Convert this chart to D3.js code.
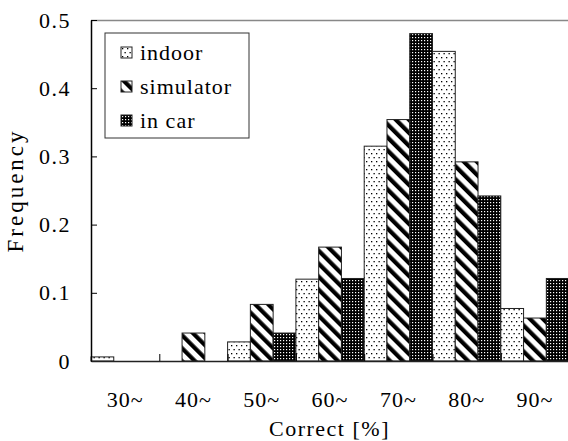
<!DOCTYPE html>
<html>
<head>
<meta charset="utf-8">
<script src="https://cdn.jsdelivr.net/npm/d3@7"></script>
<style>
  body { margin: 0; background: #fff; }
  svg { display: block; font-family: "Liberation Serif", "Times New Roman", serif; }
</style>
</head>
<body>
<script>
let categories = ["30~", "40~", "50~", "60~", "70~", "80~", "90~"];
let seriesNames = ["indoor", "simulator", "in car"];
let indoor = [0.006, 0, 0.028, 0.12, 0.315, 0.454, 0.077];
let simulator = [0, 0.041, 0.083, 0.167, 0.354, 0.292, 0.063];
let inCar = [0, 0, 0.041, 0.121, 0.48, 0.242, 0.121];
let yTicks = [0, 0.1, 0.2, 0.3, 0.4, 0.5];

let x = 568;
let y = 441;
let serif = "'Liberation Serif', 'Times New Roman', serif";
let svg = d3.select("body").append("svg").attr("width", x).attr("height", y);
let padding = { top: 20, left: 91, bottom: 80 };
let groupW = 68.3;
let bottom = y - padding.bottom;

let defs = svg.append("defs");
// indoor: sparse dots
let p1 = defs.append("pattern").attr("id", "pIndoor").attr("patternUnits", "userSpaceOnUse")
  .attr("width", 5).attr("height", 8);
p1.append("rect").attr("width", 5).attr("height", 8).attr("fill", "#fff");
p1.append("rect").attr("x", 1).attr("y", 1).attr("width", 1.3).attr("height", 1.3).attr("fill", "#000");
p1.append("rect").attr("x", 3.5).attr("y", 5).attr("width", 1.3).attr("height", 1.3).attr("fill", "#000");
// simulator: thick "\" stripes
let p2 = defs.append("pattern").attr("id", "pSim").attr("patternUnits", "userSpaceOnUse")
  .attr("width", 9.2).attr("height", 9.2).attr("patternTransform", "rotate(-45)");
p2.append("rect").attr("width", 9.2).attr("height", 9.2).attr("fill", "#fff");
p2.append("rect").attr("width", 4.2).attr("height", 9.2).attr("fill", "#000");
// in car: dense black grid with white holes
let p3 = defs.append("pattern").attr("id", "pCar").attr("patternUnits", "userSpaceOnUse")
  .attr("width", 3).attr("height", 3);
p3.append("rect").attr("width", 3).attr("height", 3).attr("fill", "#000");
p3.append("rect").attr("x", 1).attr("y", 1).attr("width", 1.2).attr("height", 1.2).attr("fill", "#fff");

let fills = ["url(#pIndoor)", "url(#pSim)", "url(#pCar)"];
let seriesValues = [indoor, simulator, inCar];

let scaleX = d3.scaleBand().domain(categories)
  .range([padding.left, padding.left + groupW * categories.length]).padding(0);
let scaleInner = d3.scaleBand().domain(seriesNames).range([0, scaleX.bandwidth()]).padding(0);
let scaleY = d3.scaleLinear().domain([0, 0.5]).range([bottom, padding.top]);

// frame top line
svg.append("line")
  .attr("x1", padding.left).attr("x2", x)
  .attr("y1", padding.top + 0.5).attr("y2", padding.top + 0.5)
  .attr("stroke", "#888").attr("stroke-width", 1.5);

// bars
let rows = [];
categories.forEach((c, i) => {
  seriesNames.forEach((s, j) => rows.push({ cat: c, series: s, idx: j, value: seriesValues[j][i] }));
});
svg.append("g").selectAll("rect").data(rows.filter(d => d.value > 0)).enter().append("rect")
  .attr("x", d => scaleX(d.cat) + scaleInner(d.series))
  .attr("y", d => scaleY(d.value))
  .attr("width", scaleInner.bandwidth())
  .attr("height", d => bottom - scaleY(d.value))
  .attr("fill", d => fills[d.idx])
  .attr("stroke", "#222")
  .attr("stroke-width", 1);

// y axis
let yAxis = svg.append("g")
  .attr("transform", "translate(" + padding.left + ",0)")
  .call(d3.axisLeft(scaleY).tickValues(yTicks).tickSizeInner(-6).tickSizeOuter(0).tickPadding(20)
    .tickFormat(d => d === 0 ? "0" : d3.format(".1f")(d)));
yAxis.attr("font-family", serif).attr("font-size", 22);
yAxis.select(".domain").attr("stroke", "#000").attr("stroke-width", 1.5);
yAxis.selectAll("text").attr("fill", "#000").style("letter-spacing", "1.5px");

// x axis labels
let xAxis = svg.append("g")
  .attr("transform", "translate(0," + bottom + ")")
  .call(d3.axisBottom(scaleX).tickSize(0).tickPadding(30));
xAxis.attr("font-family", serif).attr("font-size", 22);
xAxis.select(".domain").remove();
xAxis.selectAll("text").attr("fill", "#000").style("letter-spacing", "1px");

// x boundary ticks
let scaleEdge = d3.scaleLinear().domain([0, categories.length]).range(scaleX.range());
let edgeAxis = svg.append("g")
  .attr("transform", "translate(0," + bottom + ")")
  .call(d3.axisBottom(scaleEdge).tickValues(d3.range(1, categories.length)).tickSizeInner(-7).tickSizeOuter(0).tickFormat(""));
edgeAxis.select(".domain").attr("stroke", "#222").attr("stroke-width", 1.5);

// titles
svg.append("text")
  .text("Correct [%]")
  .attr("x", padding.left + (x - padding.left) / 2)
  .attr("y", 436)
  .attr("font-size", "22px")
  .attr("font-family", serif)
  .style("letter-spacing", "1.5px")
  .attr("text-anchor", "middle");
svg.append("text")
  .text("Frequency")
  .attr("transform", "translate(23," + ((padding.top + bottom) / 2) + ") rotate(-90)")
  .attr("font-size", "23px")
  .attr("font-family", serif)
  .style("letter-spacing", "3px")
  .attr("text-anchor", "middle");

// legend
let legend = svg.append("g").attr("transform", "translate(105,33)");
legend.append("rect")
  .attr("width", 144).attr("height", 105)
  .attr("fill", "#fff").attr("stroke", "#333").attr("stroke-width", 1);
let items = legend.selectAll(".item").data(seriesNames).enter().append("g")
  .attr("transform", (d, i) => "translate(16," + (14 + i * 34) + ")");
items.append("rect")
  .attr("width", 11).attr("height", 11)
  .attr("fill", (d, i) => fills[i])
  .attr("stroke", "#222").attr("stroke-width", 1);
items.append("text")
  .text(d => d)
  .attr("x", 19)
  .attr("y", 13)
  .attr("font-size", "22px")
  .attr("font-family", serif)
  .style("letter-spacing", "1px");
</script>
</body>
</html>
